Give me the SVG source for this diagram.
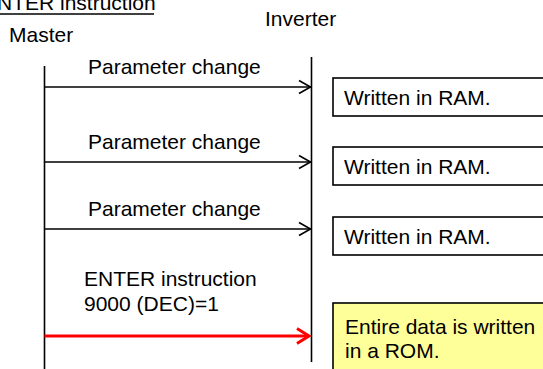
<svg xmlns="http://www.w3.org/2000/svg" width="543" height="369" viewBox="0 0 543 369">
<style>
text{font-family:"Liberation Sans",Arial,sans-serif;font-size:21px;fill:#000}
.life{stroke:#000;stroke-width:1.6;fill:none}
.msg{stroke:#000;stroke-width:1.6;fill:none}
.red{stroke:#ff0000;stroke-width:3;fill:none}
.box{fill:#fff;stroke:#000;stroke-width:1.6}
.ybox{fill:#ffff99;stroke:#000;stroke-width:1.6}
</style>
<rect width="543" height="369" fill="#fff"/>
<g id="title">
<text x="-17" y="10">ENTER instruction</text>
<line x1="0" y1="14" x2="154" y2="14" stroke="#000" stroke-width="1.6"/>
</g>
<g id="master">
<text x="9" y="42">Master</text>
<line class="life" x1="44.5" y1="66" x2="44.5" y2="369"/>
</g>
<g id="inverter">
<text x="265" y="26">Inverter</text>
<line class="life" x1="311.5" y1="57" x2="311.5" y2="362"/>
</g>
<g id="connectors">
<line class="msg" x1="44.5" y1="87" x2="311" y2="87"/>
<polyline class="msg" points="299,80.5 310.5,87 299,93.5"/>
<line class="msg" x1="44.5" y1="162" x2="311" y2="162"/>
<polyline class="msg" points="299,155.5 310.5,162 299,168.5"/>
<line class="msg" x1="44.5" y1="229" x2="311" y2="229"/>
<polyline class="msg" points="299,222.5 310.5,229 299,235.5"/>
<line class="red" x1="44.5" y1="336" x2="309" y2="336"/>
<polyline class="red" points="297,328.5 309,336 297,343.5"/>
</g>
<g id="labels">
<text x="88" y="74">Parameter change</text>
<text x="88" y="149">Parameter change</text>
<text x="88" y="216">Parameter change</text>
<text x="84" y="286">ENTER instruction</text>
<text x="84" y="311">9000 (DEC)=1</text>
</g>
<g id="ram1">
<rect class="box" x="333" y="78" width="220" height="38"/>
<text x="344" y="105">Written in RAM.</text>
</g>
<g id="ram2">
<rect class="box" x="333" y="147" width="220" height="38"/>
<text x="344" y="174">Written in RAM.</text>
</g>
<g id="ram3">
<rect class="box" x="333" y="217" width="220" height="38"/>
<text x="344" y="244">Written in RAM.</text>
</g>
<g id="rom">
<rect class="ybox" x="333" y="303" width="220" height="80"/>
<text x="345" y="334">Entire data is written</text>
<text x="345" y="358">in a ROM.</text>
</g>
</svg>
